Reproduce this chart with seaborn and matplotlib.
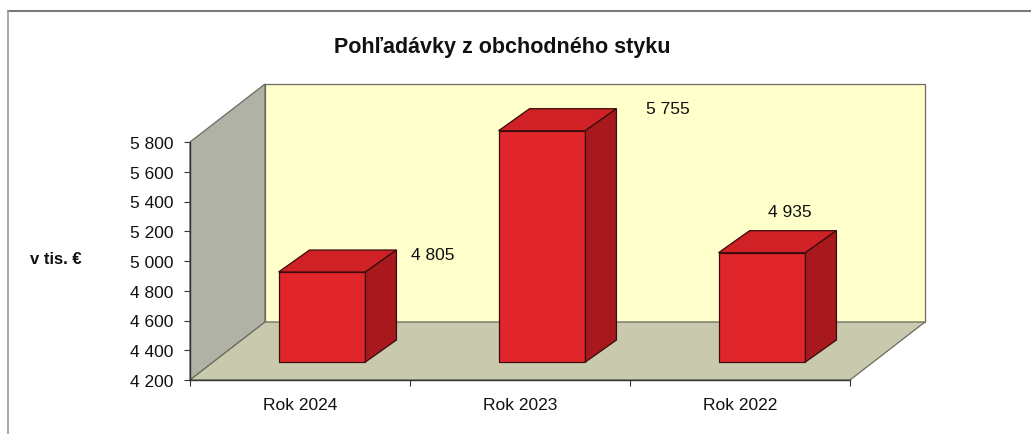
import matplotlib
matplotlib.use("Agg")
import matplotlib.pyplot as plt
import seaborn as sns
import pandas as pd
from matplotlib.patches import Polygon, Rectangle
from matplotlib.transforms import offset_copy, IdentityTransform
from matplotlib.lines import Line2D

# ---- data ----
categories = ["Rok 2024", "Rok 2023", "Rok 2022"]
values = [4805, 5755, 4935]
y_ticks = [4200, 4400, 4600, 4800, 5000, 5200, 5400, 5600, 5800]
title = "Pohľadávky z obchodného styku"
y_label = "v tis. €"

# ---- style / layout ----
sns.set_theme(style="white")
plt.rcParams['font.family'] = ['Liberation Sans', 'DejaVu Sans']

W, H, DPI = 1031, 435, 100
WALL = (75, 58)       # depth of the chart box (pixels)
BAR_SHIFT = (22, 18)  # bar front plane offset
BAR_DEPTH = (31, 22)  # bar depth
LABEL_OFFSETS = [(133, 36), (148, 40), (50, 59)]  # pixels

fig = plt.figure(figsize=(W / DPI, H / DPI), dpi=DPI, facecolor="white")
ax = fig.add_axes([190 / W, 54 / H, 660 / W, 238 / H])
ax.patch.set_visible(False)

df = pd.DataFrame({"cat": categories, "val": values})
sns.barplot(data=df, x="cat", y="val", ax=ax, width=0.395, color="#E1262B",
            saturation=1, edgecolor="#3a0c0c", linewidth=0.9, zorder=3)

ymin, ymax = y_ticks[0], y_ticks[-1]
ax.set_xlim(-0.5, len(categories) - 0.5)
ax.set_ylim(ymin, ymax)

T = ax.transData
ID = IdentityTransform()


def disp(x, y, off=(0, 0)):
    px, py = T.transform((x, y))
    return (px + off[0], py + off[1])


# ---- walls ----
x0, x1 = -0.5, len(categories) - 0.5
back = Rectangle((x0, ymin), x1 - x0, ymax - ymin,
                 transform=offset_copy(T, fig=fig, x=WALL[0], y=WALL[1], units='dots'),
                 facecolor="#FFFFCC", edgecolor="#6b6b5e", linewidth=0.9, zorder=0.5, clip_on=False)
ax.add_artist(back)
left_wall = Polygon([disp(x0, ymin), disp(x0, ymax), disp(x0, ymax, WALL), disp(x0, ymin, WALL)],
                    closed=True, transform=ID, facecolor="#B0B2A5",
                    edgecolor="#6b6b5e", linewidth=0.9, zorder=0.6, clip_on=False)
ax.add_artist(left_wall)
floor = Polygon([disp(x0, ymin), disp(x1, ymin), disp(x1, ymin, WALL), disp(x0, ymin, WALL)],
                closed=True, transform=ID, facecolor="#C9C9AD",
                edgecolor="#6b6b5e", linewidth=0.9, zorder=0.7, clip_on=False)
ax.add_artist(floor)

# ---- 3D bars ----
for p, v in zip(list(ax.patches), values):
    h = p.get_height()
    p.set_y(ymin)
    p.set_height(h - ymin)
    p.set_transform(offset_copy(T, fig=fig, x=BAR_SHIFT[0], y=BAR_SHIFT[1], units='dots'))
    p.set_clip_on(False)
    p.set_zorder(3)
    bx0, bx1 = p.get_x(), p.get_x() + p.get_width()
    top_y = ymin + p.get_height()
    s = BAR_SHIFT
    sd = (BAR_SHIFT[0] + BAR_DEPTH[0], BAR_SHIFT[1] + BAR_DEPTH[1])
    top = Polygon([disp(bx0, top_y, s), disp(bx1, top_y, s), disp(bx1, top_y, sd), disp(bx0, top_y, sd)],
                  closed=True, transform=ID, facecolor="#CF2126",
                  edgecolor="#3a0c0c", linewidth=0.9, zorder=3, clip_on=False)
    side = Polygon([disp(bx1, ymin, s), disp(bx1, top_y, s), disp(bx1, top_y, sd), disp(bx1, ymin, sd)],
                   closed=True, transform=ID, facecolor="#A8191E",
                   edgecolor="#3a0c0c", linewidth=0.9, zorder=3, clip_on=False)
    ax.add_artist(top)
    ax.add_artist(side)

# ---- value labels ----
for i, (v, off) in enumerate(zip(values, LABEL_OFFSETS)):
    ax.annotate(f"{v:,}".replace(",", " "), xy=(i, v),
                xytext=(off[0] * 72 / DPI, off[1] * 72 / DPI), textcoords="offset points",
                ha="center", va="center", fontsize=12.5, color="#111111",
                annotation_clip=False, zorder=5)

# ---- axes styling ----
for sp in ["top", "right"]:
    ax.spines[sp].set_visible(False)
for sp in ["left", "bottom"]:
    ax.spines[sp].set_color("#333333")
    ax.spines[sp].set_linewidth(1.0)
    ax.spines[sp].set_zorder(2)

ax.set_yticks(y_ticks)
ax.set_yticklabels([f"{t:,}".replace(",", " ") for t in y_ticks])
ax.tick_params(axis="y", direction="out", length=4, width=0.8, pad=8,
               labelsize=12.5, colors="#333333", labelcolor="#111111", left=True)
ax.set_xticks(range(len(categories)))
ax.set_xticklabels(categories)
ax.set_xticks([i - 0.5 for i in range(len(categories) + 1)], minor=True)
ax.tick_params(axis="x", which="major", length=0, pad=12, labelsize=12.5, labelcolor="#111111")
ax.tick_params(axis="x", which="minor", direction="out", length=4, width=0.8, colors="#333333", bottom=True)
ax.set_xlabel("")
ax.set_ylabel("")

fig.text(56 / W, 1 - 259 / H, y_label, ha="center", va="center",
         fontsize=12, fontweight="bold", color="#111111")
fig.text(502 / W, 1 - 47 / H, title, ha="center", va="center",
         fontsize=15.5, fontweight="bold", color="#111111")

# ---- outer frame ----
fig.add_artist(Line2D([8 / W, 1.0], [1 - 12 / H, 1 - 12 / H], transform=fig.transFigure,
                      color="#7a7a7a", linewidth=1.5))
fig.add_artist(Line2D([8 / W, 8 / W], [1 - 12 / H, 0.0], transform=fig.transFigure,
                      color="#9a9a9a", linewidth=1.2))

fig.savefig("out.png", dpi=DPI, facecolor="white")
